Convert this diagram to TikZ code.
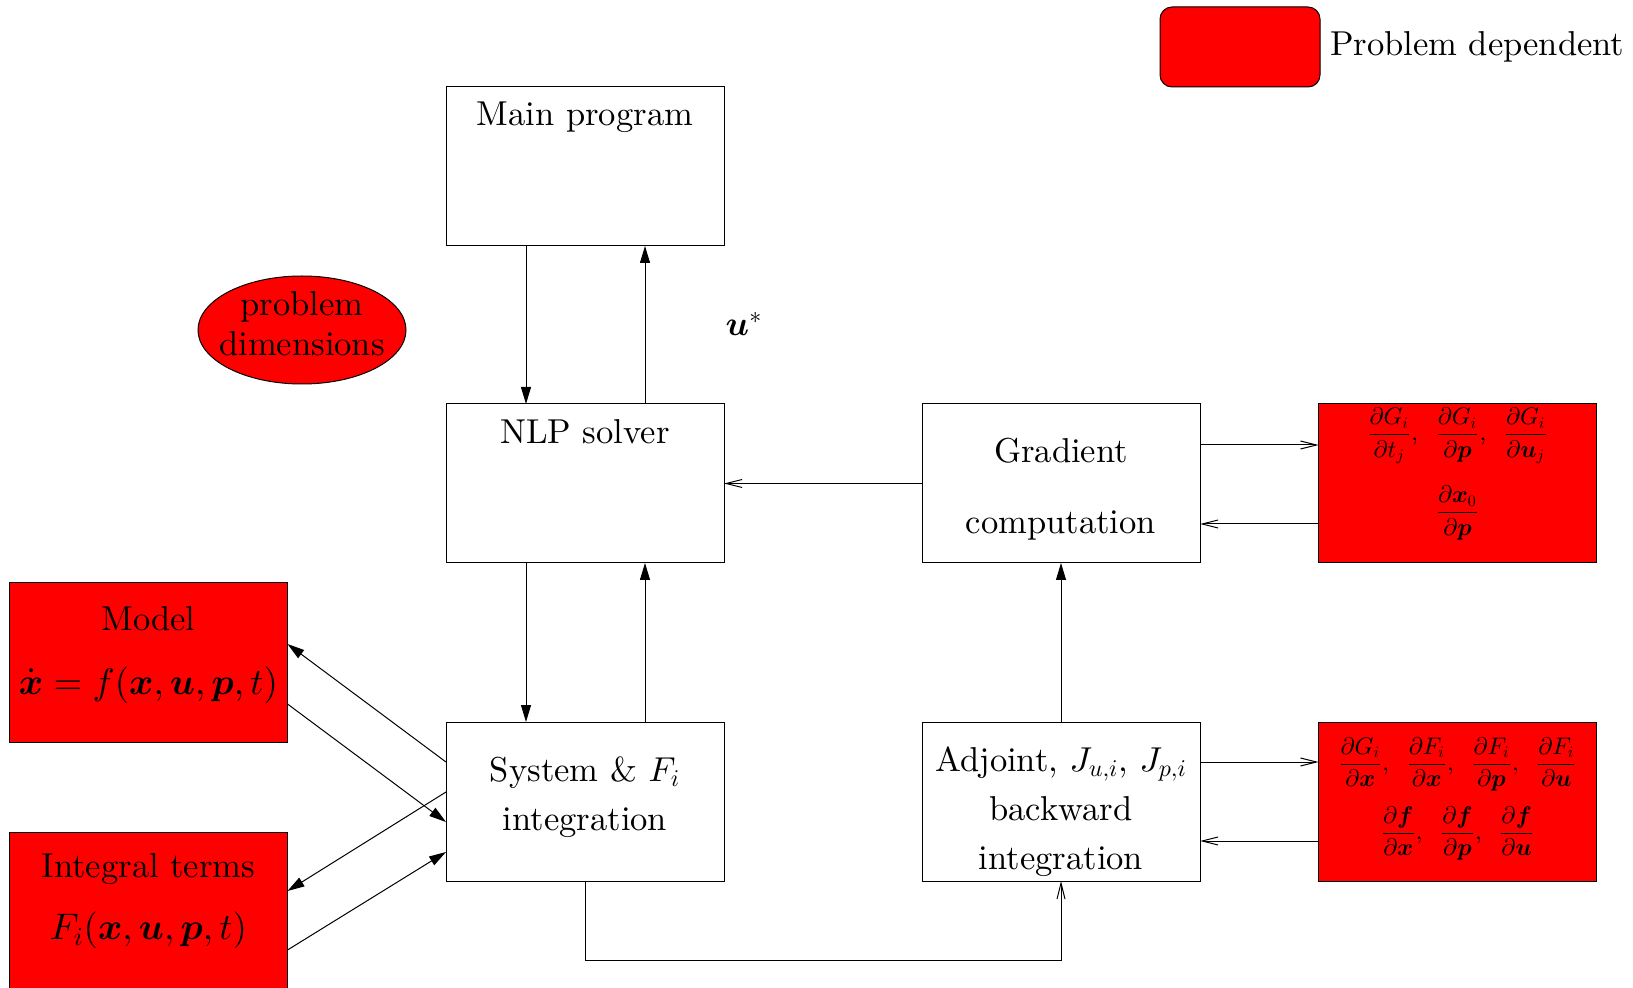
\documentclass[tikz,border=0pt]{standalone}
\usepackage{amsmath}
\usepackage[no-math]{fontspec}
\setmainfont{lmroman10-regular.otf}
\DeclareFontShape{OML}{cmm}{m}{it}{<->cmmi10}{}
\DeclareFontShape{OML}{cmm}{b}{it}{<->cmmib10}{}
\DeclareFontShape{OMS}{cmsy}{m}{n}{<->cmsy10}{}
\DeclareFontShape{OMS}{cmsy}{b}{n}{<->cmbsy10}{}
\DeclareFontShape{OT1}{cmr}{m}{n}{<->cmr10}{}
\DeclareFontShape{OT1}{cmr}{bx}{n}{<->cmbx10}{}
\usetikzlibrary{arrows.meta,calc,shapes.geometric}
\begin{document}
\begin{tikzpicture}[x=0.5pt,y=-0.5pt,
  every node/.style={font=\fontsize{17.28}{20.7}\selectfont, inner sep=0pt, outer sep=0pt},
  box/.style={draw=black, line width=0.5pt, minimum width=139pt, minimum height=79.5pt},
  redbox/.style={box, fill=red},
  txt/.style={align=center},
  fa/.style={line width=0.5pt, -{Triangle[length=8.5pt,width=5pt]}},
  oa/.style={line width=0.5pt, -{Straight Barb[length=8pt,width=4pt]}},
]
\useasboundingbox (0,0) rectangle (1633,988);

% legend
\node[draw=black, fill=red, rounded corners=6pt, line width=0.5pt, minimum width=80pt, minimum height=40pt] (legend) at (1240,47) {};
\node[anchor=west] (legendt) at (1330,47) {Problem dependent};

% main column
\node[box] (main) at (585,166.5) {};
\node (maint) at (585,117) {Main program};
\node[box] (nlp) at (585,483.5) {};
\node (nlpt) at (585,432) {NLP solver};
\node[box] (sys) at (585,801.5) {};
\node[txt, font=\fontsize{17.28}{24.5}\selectfont] (syst) at (585,797.5) {System \& $F_i$\\integration};

% right column
\node[box] (grad) at (1061,483.5) {};
\node[txt, font=\fontsize{17.28}{35.5}\selectfont] (gradt) at (1061,489.5) {Gradient\\computation};
\node[box] (adj) at (1061,801.5) {};
\node[txt, font=\fontsize{17.28}{24.5}\selectfont] (adjt) at (1061,812) {Adjoint, $J_{u,i}$, $J_{p,i}$\\backward\\integration};

% red derivative boxes
\node[redbox] (rb1) at (1457.5,483.5) {};
\node[txt, font=\fontsize{12}{39}\selectfont] (rb1t) at (1457.5,474)
  {$\displaystyle\frac{\partial G_i}{\partial t_j},\;\;\frac{\partial G_i}{\partial\boldsymbol{p}},\;\;\frac{\partial G_i}{\partial\boldsymbol{u}_j}$\\
   $\displaystyle\frac{\partial\boldsymbol{x}_0}{\partial\boldsymbol{p}}$};
\node[redbox] (rb2) at (1457.5,801.5) {};
\node[txt, font=\fontsize{12}{34.5}\selectfont] (rb2t) at (1457.5,799)
  {$\displaystyle\frac{\partial G_i}{\partial\boldsymbol{x}},\;\;\frac{\partial F_i}{\partial\boldsymbol{x}},\;\;\frac{\partial F_i}{\partial\boldsymbol{p}},\;\;\frac{\partial F_i}{\partial\boldsymbol{u}}$\\
   $\displaystyle\frac{\partial\boldsymbol{f}}{\partial\boldsymbol{x}},\;\;\frac{\partial\boldsymbol{f}}{\partial\boldsymbol{p}},\;\;\frac{\partial\boldsymbol{f}}{\partial\boldsymbol{u}}$};

% left red boxes
\node[redbox] (model) at (148.5,662.5) {};
\node[txt, font=\fontsize{17.28}{32}\selectfont] (modelt) at (148.5,655)
  {Model\\{\fontsize{18.5}{32}\selectfont$\dot{\boldsymbol{x}}=f(\boldsymbol{x},\boldsymbol{u},\boldsymbol{p},t)$}};
\node[redbox] (integ) at (148.5,911.5) {};
\node[txt, font=\fontsize{17.28}{31}\selectfont] (intt) at (148.5,901.5)
  {Integral terms\\{\fontsize{18.5}{31}\selectfont$F_i(\boldsymbol{x},\boldsymbol{u},\boldsymbol{p},t)$}};

% ellipse
\node[ellipse, draw=black, fill=red, line width=0.5pt, minimum width=104pt, minimum height=54pt] (dims) at (302,330) {};
\node[txt, font=\fontsize{17.28}{20}\selectfont] (dimst) at (302,324) {problem\\dimensions};

% u*
\node (ustar) at (744,324) {$\boldsymbol{u}^*$};

% connectors
\draw[fa] ($(main.south west)+(80,0)$) -- ($(nlp.north west)+(80,0)$);
\draw[fa] ($(nlp.north west)+(199,0)$) -- ($(main.south west)+(199,0)$);
\draw[fa] ($(nlp.south west)+(80,0)$) -- ($(sys.north west)+(80,0)$);
\draw[fa] ($(sys.north west)+(199,0)$) -- ($(nlp.south west)+(199,0)$);
\draw[oa] (grad.west) -- (nlp.east);
\draw[oa] ($(grad.north east)+(0,41)$) -- ($(rb1.north west)+(0,41)$);
\draw[oa] ($(rb1.north west)+(0,120)$) -- ($(grad.north east)+(0,120)$);
\draw[fa] (adj.north) -- (grad.south);
\draw[oa] ($(adj.north east)+(0,40)$) -- ($(rb2.north west)+(0,40)$);
\draw[oa] ($(rb2.north west)+(0,119)$) -- ($(adj.north east)+(0,119)$);
\draw[oa] (sys.south) -- ++(0,79) -| (adj.south);

\draw[fa] ($(sys.north west)+(0,40)$) -- ($(model.north east)+(0,61)$);
\draw[fa] ($(model.north east)+(0,121)$) -- ($(sys.north west)+(0,100)$);
\draw[fa] ($(sys.north west)+(0,70)$) -- ($(integ.north east)+(0,59)$);
\draw[fa] ($(integ.north east)+(0,118)$) -- ($(sys.north west)+(0,130)$);
\end{tikzpicture}
\end{document}
